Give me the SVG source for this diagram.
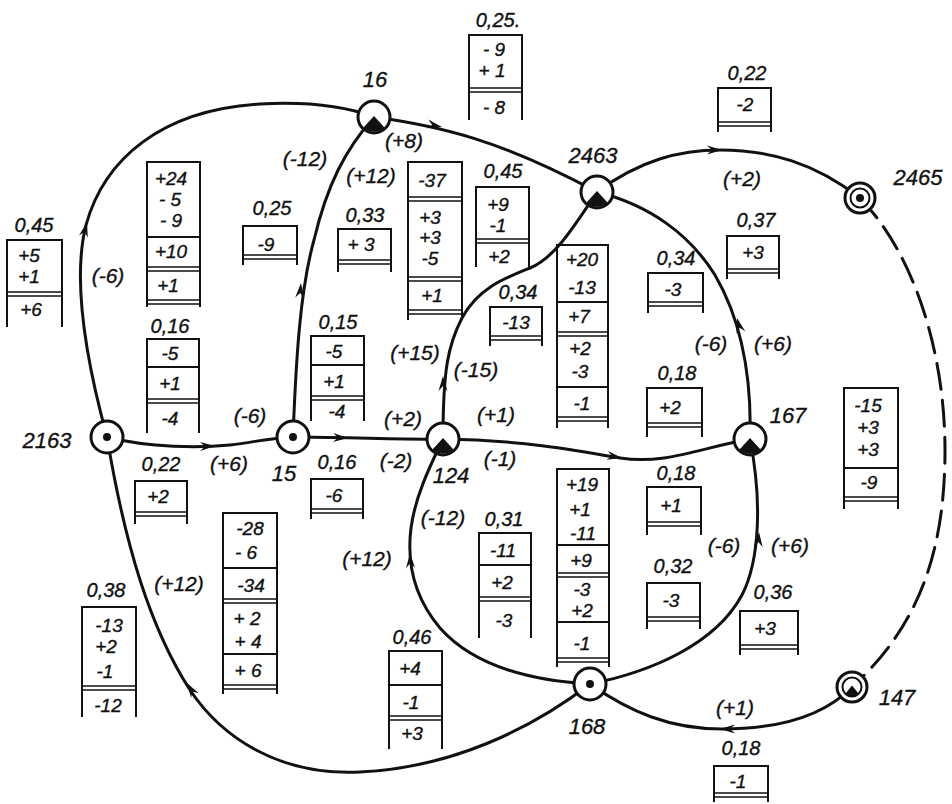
<svg xmlns="http://www.w3.org/2000/svg" width="952" height="804" viewBox="0 0 952 804">
<style>
.e{fill:none;stroke:#111;stroke-width:3;stroke-linecap:round}
.dash{stroke-dasharray:26 11}
.bx{fill:none;stroke:#111;stroke-width:2}
.sp{fill:none;stroke:#111;stroke-width:2}
.dl{fill:none;stroke:#111;stroke-width:1.6}
text{font-family:"Liberation Sans",Arial,sans-serif;font-style:italic;fill:#111;stroke:#111;stroke-width:0.35;text-anchor:middle}
.v{font-size:19px}
.lb{font-size:20px}
.el{font-size:21px}
.n{font-size:22px}
.ah{fill:#111}
</style>
<defs>
<path id="ah" class="ah" d="M0,0 L-15,-4.5 L-10,0 L-15,4.5 Z"/>
<g id="nd"><circle r="16" fill="#fff" stroke="#111" stroke-width="3"/><circle r="4" fill="#111"/></g>
<g id="nh"><circle r="16" fill="#fff" stroke="#111" stroke-width="3"/><path d="M-10.5,10.5 L0,-1 L10.5,10.5 A14.8 14.8 0 0 1 -10.5,10.5 Z" fill="#111"/></g>
<g id="ndd"><circle r="15" fill="#fff" stroke="#111" stroke-width="3"/><circle r="9.5" fill="none" stroke="#111" stroke-width="2"/><circle r="4" fill="#111"/></g>
<g id="nhd"><circle r="15" fill="#fff" stroke="#111" stroke-width="3"/><circle r="9.5" fill="none" stroke="#111" stroke-width="2"/><path d="M-6.5,6.5 L0,-1.5 L6.5,6.5 A9 9 0 0 1 -6.5,6.5 Z" fill="#111"/></g>
</defs>
<rect width="952" height="804" fill="#fff"/>

<g id="connectors">
<path class="e" d="M107,437 C86,360 72,280 86,225 C104,160 160,110 260,104 C315,101 350,108 374,117"/>
<path class="e" d="M293,437 C296,360 300,290 314,240 C327,185 345,150 374,117"/>
<path class="e" d="M374,117 C440,126 500,140 597,192"/>
<path class="e" d="M597,192 C640,160 680,150 720,150 C770,150 815,163 860,198"/>
<path class="e" d="M597,192 C650,205 690,235 715,275 C740,318 752,370 750,439"/>
<path class="e" d="M597,192 C575,225 555,258 530,268 C505,278 478,288 462,318 C448,345 443,370 443,439"/>
<path class="e" d="M107,437 C150,448 200,448 230,445 C255,442 270,438 293,437"/>
<path class="e" d="M293,437 C340,437 400,440 443,439"/>
<path class="e" d="M443,439 C520,440 575,450 620,458 C665,465 700,448 750,439"/>
<path class="e" d="M590,684 C520,680 470,662 440,628 C412,595 407,560 411,528 C415,498 428,470 443,439"/>
<path class="e" d="M590,684 C650,672 715,645 742,595 C760,560 762,500 750,439"/>
<path class="e" d="M590,684 C530,730 450,768 360,772 C280,776 222,738 190,690 C150,628 125,545 107,437"/>
<path class="e" d="M852,687 C820,720 770,729 722,729 C670,729 630,712 590,684"/>
<path class="e dash" d="M860,198 C918,258 945,360 945,450 C945,550 920,625 852,687"/>
<use href="#ah" transform="translate(87,222) rotate(-76)"/>
<use href="#ah" transform="translate(301,283) rotate(-85)"/>
<use href="#ah" transform="translate(442,127) rotate(12)"/>
<use href="#ah" transform="translate(722,150) rotate(0)"/>
<use href="#ah" transform="translate(737,318) rotate(-105)"/>
<use href="#ah" transform="translate(443,376) rotate(-90)"/>
<use href="#ah" transform="translate(215,446) rotate(-2)"/>
<use href="#ah" transform="translate(348,438) rotate(2)"/>
<use href="#ah" transform="translate(622,458) rotate(10)"/>
<use href="#ah" transform="translate(410,553) rotate(-92)"/>
<use href="#ah" transform="translate(759,532) rotate(-87)"/>
<use href="#ah" transform="translate(187,683) rotate(-122)"/>
<use href="#ah" transform="translate(720,729) rotate(180)"/>
<text class="el" x="108" y="283">(-6)</text>
<text class="el" x="305" y="166">(-12)</text>
<text class="el" x="371" y="183">(+12)</text>
<text class="el" x="404" y="148">(+8)</text>
<text class="el" x="742" y="186">(+2)</text>
<text class="el" x="711" y="351">(-6)</text>
<text class="el" x="773" y="351">(+6)</text>
<text class="el" x="415" y="360">(+15)</text>
<text class="el" x="476" y="377">(-15)</text>
<text class="el" x="250" y="423">(-6)</text>
<text class="el" x="229" y="471">(+6)</text>
<text class="el" x="403" y="426">(+2)</text>
<text class="el" x="396" y="468">(-2)</text>
<text class="el" x="496" y="422">(+1)</text>
<text class="el" x="500" y="466">(-1)</text>
<text class="el" x="443" y="525">(-12)</text>
<text class="el" x="367" y="566">(+12)</text>
<text class="el" x="724" y="553">(-6)</text>
<text class="el" x="790" y="553">(+6)</text>
<text class="el" x="179" y="591">(+12)</text>
<text class="el" x="735" y="715">(+1)</text>
</g>

<g id="node-2163"><use href="#nd" x="107" y="437"/><text class="n" x="47" y="448">2163</text></g>
<g id="node-15"><use href="#nd" x="293" y="437"/><text class="n" x="284" y="481">15</text></g>
<g id="node-16"><use href="#nh" x="374" y="117"/><text class="n" x="375" y="87">16</text></g>
<g id="node-2463"><use href="#nh" x="597" y="192"/><text class="n" x="593" y="163">2463</text></g>
<g id="node-124"><use href="#nh" x="443" y="439"/><text class="n" x="451" y="483">124</text></g>
<g id="node-167"><use href="#nh" x="750" y="439"/><text class="n" x="788" y="423">167</text></g>
<g id="node-2465"><use href="#ndd" x="860" y="198"/><text class="n" x="918" y="185">2465</text></g>
<g id="node-147"><use href="#nhd" x="852" y="687"/><text class="n" x="897" y="705">147</text></g>
<g id="node-168"><use href="#nd" x="590" y="684"/><text class="n" x="587" y="734">168</text></g>

<g id="box-a"><path class="bx" d="M7,327 V240 H62 V327"/><path class="dl" d="M7,292 H62 M7,296 H62"/>
<text class="lb" x="34" y="232">0,45</text><text class="v" x="29" y="262">+5</text><text class="v" x="29" y="283">+1</text><text class="v" x="31" y="316">+6</text></g>
<g id="box-b"><path class="bx" d="M147,307 V162 H200 V307"/><path class="sp" d="M147,237 H200"/><path class="dl" d="M147,267 H200 M147,271 H200 M147,300 H200 M147,304 H200"/>
<text class="v" x="171" y="185">+24</text><text class="v" x="170" y="206">- 5</text><text class="v" x="171" y="227">- 9</text><text class="v" x="171" y="258">+10</text><text class="v" x="168" y="292">+1</text></g>
<g id="box-c"><path class="bx" d="M147,433 V339 H199 V433"/><path class="sp" d="M147,367 H199"/><path class="dl" d="M147,399 H199 M147,403 H199"/>
<text class="lb" x="170" y="333">0,16</text><text class="v" x="170" y="360">-5</text><text class="v" x="170" y="390">+1</text><text class="v" x="170" y="425">-4</text></g>
<g id="box-d"><path class="bx" d="M243,265 V226 H297 V265"/><path class="dl" d="M243,255 H297 M243,259 H297"/>
<text class="lb" x="272" y="215">0,25</text><text class="v" x="266" y="251">-9</text></g>
<g id="box-e"><path class="bx" d="M338,272 V229 H391 V272"/><path class="dl" d="M338,260 H391 M338,264 H391"/>
<text class="lb" x="365" y="222">0,33</text><text class="v" x="361" y="251">+ 3</text></g>
<g id="box-f"><path class="bx" d="M408,320 V162 H462 V320"/><path class="dl" d="M408,197 H462 M408,201 H462 M408,277 H462 M408,281 H462 M408,310 H462 M408,314 H462"/>
<text class="v" x="432" y="187">-37</text><text class="v" x="430" y="224">+3</text><text class="v" x="430" y="244">+3</text><text class="v" x="430" y="265">-5</text><text class="v" x="432" y="302">+1</text></g>
<g id="box-g"><path class="bx" d="M476,267 V187 H529 V267"/><path class="dl" d="M476,239 H529 M476,243 H529"/>
<text class="lb" x="503" y="178">0,45</text><text class="v" x="498" y="211">+9</text><text class="v" x="498" y="232">-1</text><text class="v" x="499" y="263">+2</text></g>
<g id="box-h"><path class="bx" d="M469,120 V35 H522 V120"/><path class="dl" d="M469,88 H522 M469,92 H522"/>
<text class="lb" x="498" y="27">0,25.</text><text class="v" x="494" y="56">- 9</text><text class="v" x="492" y="77">+ 1</text><text class="v" x="494" y="114">- 8</text></g>
<g id="box-i"><path class="bx" d="M718,132 V88 H771 V132"/><path class="dl" d="M718,122 H771 M718,126 H771"/>
<text class="lb" x="747" y="80">0,22</text><text class="v" x="745" y="111">-2</text></g>
<g id="box-j"><path class="bx" d="M727,279 V236 H779 V279"/><path class="dl" d="M727,269 H779 M727,273 H779"/>
<text class="lb" x="756" y="227">0,37</text><text class="v" x="753" y="259">+3</text></g>
<g id="box-k"><path class="bx" d="M648,313 V273 H703 V313"/><path class="dl" d="M648,302 H703 M648,306 H703"/>
<text class="lb" x="676" y="265">0,34</text><text class="v" x="673" y="296">-3</text></g>
<g id="box-l"><path class="bx" d="M490,346 V307 H542 V346"/><path class="dl" d="M490,336 H542 M490,340 H542"/>
<text class="lb" x="518" y="299">0,34</text><text class="v" x="516" y="329">-13</text></g>
<g id="box-m"><path class="bx" d="M557,428 V245 H608 V428"/><path class="sp" d="M557,302 H608 M557,387 H608"/><path class="dl" d="M557,332 H608 M557,336 H608 M557,417 H608 M557,421 H608"/>
<text class="v" x="582" y="266">+20</text><text class="v" x="582" y="294">-13</text><text class="v" x="579" y="323">+7</text><text class="v" x="580" y="355">+2</text><text class="v" x="580" y="378">-3</text><text class="v" x="582" y="410">-1</text></g>
<g id="box-n"><path class="bx" d="M647,437 V388 H702 V437"/><path class="dl" d="M647,423 H702 M647,427 H702"/>
<text class="lb" x="677" y="380">0,18</text><text class="v" x="670" y="414">+2</text></g>
<g id="box-o"><path class="bx" d="M647,535 V487 H701 V535"/><path class="dl" d="M647,522 H701 M647,526 H701"/>
<text class="lb" x="676" y="480">0,18</text><text class="v" x="671" y="512">+1</text></g>
<g id="box-p"><path class="bx" d="M557,667 V469 H609 V667"/><path class="sp" d="M557,545 H609 M557,622 H609"/><path class="dl" d="M557,573 H609 M557,577 H609 M557,658 H609 M557,662 H609"/>
<text class="v" x="582" y="491">+19</text><text class="v" x="580" y="516">+1</text><text class="v" x="583" y="540">-11</text><text class="v" x="581" y="567">+9</text><text class="v" x="582" y="596">-3</text><text class="v" x="582" y="617">+2</text><text class="v" x="582" y="650">-1</text></g>
<g id="box-q"><path class="bx" d="M647,629 V583 H700 V629"/><path class="dl" d="M647,617 H700 M647,621 H700"/>
<text class="lb" x="673" y="573">0,32</text><text class="v" x="671" y="607">-3</text></g>
<g id="box-r"><path class="bx" d="M740,655 V611 H798 V655"/><path class="dl" d="M740,645 H798 M740,649 H798"/>
<text class="lb" x="773" y="599">0,36</text><text class="v" x="765" y="635">+3</text></g>
<g id="box-s"><path class="bx" d="M714,802 V766 H768 V802"/><path class="dl" d="M714,793 H768 M714,797 H768"/>
<text class="lb" x="741" y="755">0,18</text><text class="v" x="738" y="788">-1</text></g>
<g id="box-t"><path class="bx" d="M844,509 V388 H898 V509"/><path class="sp" d="M844,468 H898"/><path class="dl" d="M844,497 H898 M844,501 H898"/>
<text class="v" x="868" y="412">-15</text><text class="v" x="868" y="434">+3</text><text class="v" x="868" y="456">+3</text><text class="v" x="869" y="489">-9</text></g>
<g id="box-u"><path class="bx" d="M479,638 V533 H531 V638"/><path class="sp" d="M479,565 H531"/><path class="dl" d="M479,597 H531 M479,601 H531"/>
<text class="lb" x="504" y="526">0,31</text><text class="v" x="503" y="557">-11</text><text class="v" x="502" y="589">+2</text><text class="v" x="504" y="627">-3</text></g>
<g id="box-v"><path class="bx" d="M311,519 V479 H363 V519"/><path class="dl" d="M311,509 H363 M311,513 H363"/>
<text class="lb" x="337" y="469">0,16</text><text class="v" x="334" y="502">-6</text></g>
<g id="box-w"><path class="bx" d="M311,421 V336 H364 V421"/><path class="sp" d="M311,365 H364"/><path class="dl" d="M311,396 H364 M311,400 H364"/>
<text class="lb" x="338" y="329">0,15</text><text class="v" x="334" y="358">-5</text><text class="v" x="334" y="388">+1</text><text class="v" x="337" y="418">-4</text></g>
<g id="box-x"><path class="bx" d="M135,524 V481 H187 V524"/><path class="dl" d="M135,512 H187 M135,516 H187"/>
<text class="lb" x="161" y="471">0,22</text><text class="v" x="158" y="503">+2</text></g>
<g id="box-y"><path class="bx" d="M223,694 V513 H277 V694"/><path class="sp" d="M223,568 H277 M223,654 H277"/><path class="dl" d="M223,599 H277 M223,603 H277 M223,685 H277 M223,689 H277"/>
<text class="v" x="250" y="535">-28</text><text class="v" x="246" y="559">- 6</text><text class="v" x="251" y="592">-34</text><text class="v" x="247" y="625">+ 2</text><text class="v" x="248" y="648">+ 4</text><text class="v" x="248" y="677">+ 6</text></g>
<g id="box-z"><path class="bx" d="M82,717 V607 H136 V717"/><path class="dl" d="M82,686 H136 M82,690 H136"/>
<text class="lb" x="106" y="597">0,38</text><text class="v" x="109" y="632">-13</text><text class="v" x="106" y="653">+2</text><text class="v" x="105" y="678">-1</text><text class="v" x="108" y="712">-12</text></g>
<g id="box-aa"><path class="bx" d="M389,749 V651 H442 V749"/><path class="sp" d="M389,685 H442"/><path class="dl" d="M389,716 H442 M389,720 H442"/>
<text class="lb" x="412" y="644">0,46</text><text class="v" x="410" y="675">+4</text><text class="v" x="411" y="709">-1</text><text class="v" x="412" y="740">+3</text></g>
</svg>
